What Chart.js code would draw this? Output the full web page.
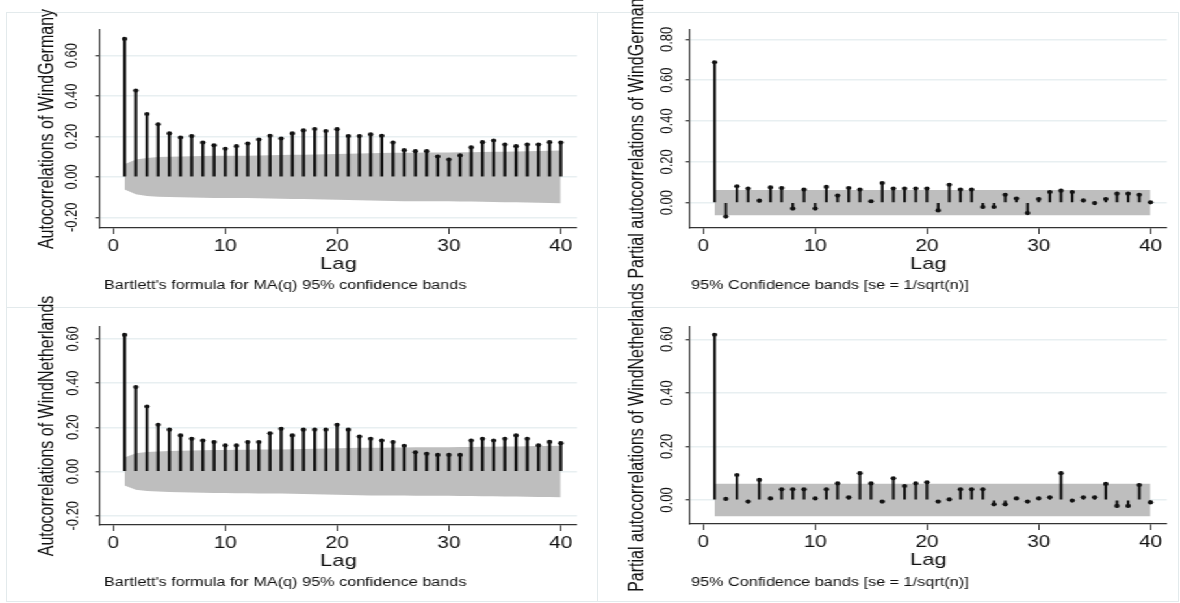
<!DOCTYPE html>
<html>
<head>
<meta charset="utf-8">
<title>ACF / PACF of wind series</title>
<script src="https://cdn.jsdelivr.net/npm/chart.js@4.4.1/dist/chart.umd.min.js"></script>
<style>
  html, body { margin: 0; padding: 0; background: #fff; }
  #page { position: relative; width: 1180px; height: 603px; overflow: hidden; }
  .frame { position: absolute; border: 1px solid #e3eaec; box-sizing: border-box; }
  /* the original figure is stretched horizontally, so draw narrow and stretch */
  #stretch { position: absolute; left: 0; top: 0; width: 908px; height: 603px;
             transform: scaleX(1.299559); transform-origin: 0 0; }
  #stretch canvas { position: absolute; left: 0; top: 0; }
</style>
</head>
<body>
<div id="page">
  <div class="frame" style="left:6px;top:12px;width:592px;height:296px"></div>
  <div class="frame" style="left:597px;top:12px;width:582px;height:296px"></div>
  <div class="frame" style="left:6px;top:307px;width:592px;height:295px"></div>
  <div class="frame" style="left:597px;top:307px;width:582px;height:295px"></div>
  <div id="stretch">
    <canvas id="acfGermany" width="908" height="603"></canvas>
    <canvas id="pacfGermany" width="908" height="603"></canvas>
    <canvas id="acfNetherlands" width="908" height="603"></canvas>
    <canvas id="pacfNetherlands" width="908" height="603"></canvas>
  </div>
</div>
<script>
// lags on the x axis
const lags = [1, 2, 3, 4, 5, 6, 7, 8, 9, 10, 11, 12, 13, 14, 15, 16, 17, 18, 19, 20,
              21, 22, 23, 24, 25, 26, 27, 28, 29, 30, 31, 32, 33, 34, 35, 36, 37, 38, 39, 40];
const xTicks = [0, 10, 20, 30, 40];

// autocorrelations
const acfGermany = [0.683, 0.427, 0.311, 0.260, 0.215, 0.195, 0.202, 0.170, 0.156, 0.139,
                    0.152, 0.165, 0.185, 0.203, 0.190, 0.215, 0.230, 0.237, 0.227, 0.236,
                    0.202, 0.202, 0.210, 0.203, 0.170, 0.132, 0.127, 0.127, 0.101, 0.086,
                    0.106, 0.146, 0.172, 0.180, 0.160, 0.152, 0.160, 0.160, 0.172, 0.170];
const acfNetherlands = [0.618, 0.382, 0.294, 0.211, 0.189, 0.163, 0.148, 0.140, 0.133, 0.118,
                        0.118, 0.133, 0.133, 0.173, 0.193, 0.163, 0.189, 0.189, 0.189, 0.211,
                        0.189, 0.158, 0.148, 0.140, 0.133, 0.116, 0.087, 0.080, 0.075, 0.075,
                        0.075, 0.140, 0.148, 0.140, 0.148, 0.163, 0.148, 0.118, 0.134, 0.128];

// partial autocorrelations
const pacfGermany = [0.688, -0.068, 0.080, 0.069, 0.010, 0.075, 0.072, -0.029, 0.064, -0.029,
                     0.077, 0.035, 0.072, 0.064, 0.007, 0.096, 0.069, 0.069, 0.069, 0.069,
                     -0.038, 0.088, 0.064, 0.064, -0.021, -0.021, 0.039, 0.020, -0.051, 0.018,
                     0.052, 0.059, 0.052, 0.011, -0.002, 0.018, 0.044, 0.044, 0.039, 0.002];
const pacfNetherlands = [0.617, 0.004, 0.093, -0.006, 0.075, 0.006, 0.040, 0.040, 0.040, 0.006,
                         0.040, 0.062, 0.010, 0.100, 0.062, -0.006, 0.081, 0.052, 0.062, 0.066,
                         -0.006, 0.002, 0.040, 0.040, 0.040, -0.016, -0.016, 0.006, -0.006, 0.006,
                         0.010, 0.100, -0.002, 0.010, 0.010, 0.060, -0.022, -0.022, 0.056, -0.009];

// 95% confidence band half-widths
const bandAcfGermany = [0.063, 0.086, 0.094, 0.098, 0.100, 0.101, 0.102, 0.103, 0.104, 0.104,
                        0.105, 0.105, 0.106, 0.107, 0.108, 0.109, 0.110, 0.111, 0.112, 0.113,
                        0.115, 0.116, 0.117, 0.118, 0.119, 0.120, 0.120, 0.121, 0.121, 0.121,
                        0.122, 0.122, 0.123, 0.124, 0.125, 0.126, 0.127, 0.128, 0.129, 0.130];
const bandAcfNetherlands = [0.063, 0.082, 0.088, 0.091, 0.093, 0.094, 0.095, 0.096, 0.097, 0.097,
                            0.098, 0.098, 0.099, 0.099, 0.100, 0.101, 0.102, 0.103, 0.104, 0.105,
                            0.106, 0.107, 0.108, 0.108, 0.109, 0.109, 0.110, 0.110, 0.110, 0.110,
                            0.111, 0.111, 0.112, 0.112, 0.113, 0.113, 0.114, 0.115, 0.115, 0.116];
const bandPacfGermany = 0.062;
const bandPacfNetherlands = 0.061;

// y tick labels
const yTicksAcfGermany = [-0.2, 0, 0.2, 0.4, 0.6];
const yTicksPacfGermany = [0, 0.2, 0.4, 0.6, 0.8];
const yTicksAcfNetherlands = [-0.2, 0, 0.2, 0.4, 0.6];
const yTicksPacfNetherlands = [0, 0.2, 0.4, 0.6];

const W = 908, H = 603;
const K = 1180 / W;            // horizontal stretch
const ux = x => x / K;         // page x -> canvas x
const xAxisHeight = 47;
const FONT = '"Liberation Sans", Arial, Helvetica, sans-serif';
const textColor = '#111';
const axisColor = '#333';
const gridColor = '#e8eff1';
const bandColor = '#bebebe';
const stemColor = '#111';

Chart.defaults.font.family = FONT;

// rotated y labels, y title and the note under the plot (Stata style)
const stataText = {
  id: 'stataText',
  afterDraw(chart, args, o) {
    const { ctx } = chart;
    const y = chart.scales.y;
    ctx.save();
    ctx.fillStyle = textColor;

    ctx.font = '13px ' + FONT;
    ctx.textAlign = 'center';
    ctx.textBaseline = 'alphabetic';
    y.ticks.forEach(t => {
      ctx.save();
      ctx.translate(ux(o.labelX), y.getPixelForValue(t.value));
      ctx.rotate(-Math.PI / 2);
      ctx.fillText(t.value.toFixed(2), 0, 0);
      ctx.restore();
    });

    ctx.font = '16px ' + FONT;
    ctx.textBaseline = 'middle';
    ctx.save();
    ctx.translate(ux(o.titleX), o.titleY);
    ctx.rotate(-Math.PI / 2);
    ctx.fillText(o.title, 0, 0);
    ctx.restore();

    ctx.font = '12.5px ' + FONT;
    ctx.textAlign = 'left';
    ctx.fillText(o.note, ux(o.noteX), o.noteY);
    ctx.restore();
  }
};

const acfNote = "Bartlett's formula for MA(q) 95% confidence bands";
const pacfNote = '95% Confidence bands [se = 1/sqrt(n)]';

const panels = [
  { id: 'acfGermany', values: acfGermany, bandLags: lags, band: bandAcfGermany,
    yTicks: yTicksAcfGermany, yMin: -0.253, yMax: 0.727, stemWidth: 1.7,
    area: { left: 100, right: 577, top: 30, bottom: 228 },
    text: { title: 'Autocorrelations of WindGermany', note: acfNote,
            labelX: 77, titleX: 48, titleY: 129, noteX: 104, noteY: 285.6 } },
  { id: 'pacfGermany', values: pacfGermany, bandLags: [lags[0], lags[lags.length - 1]],
    band: [bandPacfGermany, bandPacfGermany],
    yTicks: yTicksPacfGermany, yMin: -0.124, yMax: 0.846, stemWidth: 1.4,
    area: { left: 690, right: 1166.7, top: 30, bottom: 228 },
    text: { title: 'Partial autocorrelations of WindGermany', note: pacfNote,
            labelX: 672, titleX: 637, titleY: 134.5, noteX: 691, noteY: 285.6 } },
  { id: 'acfNetherlands', values: acfNetherlands, bandLags: lags, band: bandAcfNetherlands,
    yTicks: yTicksAcfNetherlands, yMin: -0.242, yMax: 0.655, stemWidth: 1.7,
    area: { left: 100, right: 577, top: 326.7, bottom: 525 },
    text: { title: 'Autocorrelations of WindNetherlands', note: acfNote,
            labelX: 77.5, titleX: 48, titleY: 426, noteX: 104, noteY: 582.6 } },
  { id: 'pacfNetherlands', values: pacfNetherlands, bandLags: [lags[0], lags[lags.length - 1]],
    band: [bandPacfNetherlands, bandPacfNetherlands],
    yTicks: yTicksPacfNetherlands, yMin: -0.0896, yMax: 0.647, stemWidth: 1.4,
    area: { left: 690, right: 1166.7, top: 326.7, bottom: 524 },
    text: { title: 'Partial autocorrelations of WindNetherlands', note: pacfNote,
            labelX: 672, titleX: 637, titleY: 437.5, noteX: 691, noteY: 582.6 } }
];

panels.forEach(p => {
  const a = p.area;
  const stems = lags.map((lag, i) => ({ x: lag, y: p.values[i] }));
  const upper = p.bandLags.map((lag, i) => ({ x: lag, y: p.band[i] }));
  const lower = p.bandLags.map((lag, i) => ({ x: lag, y: -p.band[i] }));

  new Chart(document.getElementById(p.id), {
    type: 'scatter',
    data: {
      datasets: [
        { type: 'line', data: upper, fill: '+1', backgroundColor: bandColor,
          borderColor: 'rgba(0,0,0,0)', borderWidth: 0, pointRadius: 0, order: 3 },
        { type: 'line', data: lower, fill: false,
          borderColor: 'rgba(0,0,0,0)', borderWidth: 0, pointRadius: 0, order: 3 },
        { type: 'bar', data: stems, backgroundColor: stemColor,
          barThickness: p.stemWidth, borderWidth: 0, order: 2 },
        { data: stems, backgroundColor: stemColor, pointRadius: 2.1, borderWidth: 0, order: 1 }
      ]
    },
    options: {
      responsive: false,
      animation: false,
      events: [],
      layout: {
        autoPadding: false,
        padding: { left: ux(a.left), right: W - ux(a.right), top: a.top,
                   bottom: H - a.bottom - xAxisHeight }
      },
      plugins: {
        legend: { display: false },
        tooltip: { enabled: false },
        stataText: p.text
      },
      scales: {
        x: {
          type: 'linear', min: -1.2, max: 41.45, offset: false,
          afterBuildTicks: s => { s.ticks = xTicks.map(v => ({ value: v })); },
          afterFit: s => { s.height = xAxisHeight; },
          grid: { offset: false, drawOnChartArea: false, tickLength: 6,
                  tickColor: axisColor, tickWidth: 1 },
          border: { color: axisColor, width: 1.3 },
          ticks: { color: textColor, font: { size: 16 }, padding: 3,
                   maxRotation: 0, autoSkip: false, callback: v => v },
          title: { display: true, text: 'Lag', color: textColor,
                   font: { size: 17 }, padding: 0 }
        },
        y: {
          type: 'linear', min: p.yMin, max: p.yMax,
          afterBuildTicks: s => { s.ticks = p.yTicks.map(v => ({ value: v })); },
          afterFit: s => { s.width = 0; },
          grid: { color: gridColor, lineWidth: 1.5, tickLength: 3.5,
                  tickColor: axisColor, tickWidth: 1.2 },
          border: { color: axisColor, width: 1.1 },
          ticks: { display: false }
        }
      }
    },
    plugins: [stataText]
  });
});
</script>
</body>
</html>
